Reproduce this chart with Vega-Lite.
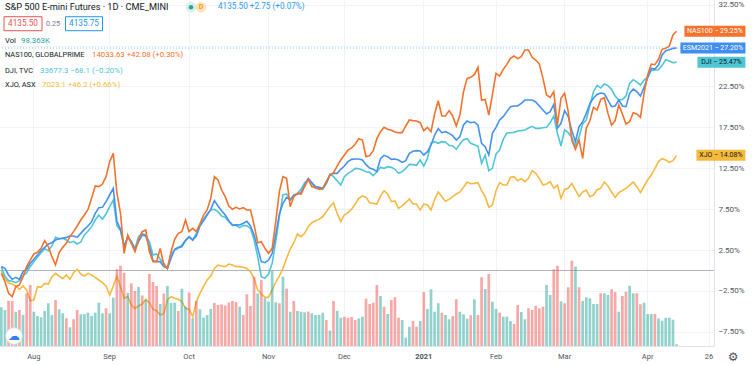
{
"$schema": "https://vega.github.io/schema/vega-lite/v6.json",
"width": 714, "height": 346,
"autosize": {"type": "none"},
"padding": {"left": 0, "top": 0, "right": 38, "bottom": 19},
"background": "#ffffff",
"config": {"view": {"stroke": null}, "font": "Roboto"},
"data": {"values": [
{"date":"2020-07-21","vol":2245,"dir":"up","nas":-0.35,"es":0.47,"dji":0.47,"xjo":-0.02},
{"date":"2020-07-22","vol":2088,"dir":"up","nas":-1.37,"es":0.26,"dji":-0.75,"xjo":-1.08},
{"date":"2020-07-23","vol":2627,"dir":"down","nas":-2.79,"es":-0.55,"dji":-1.24,"xjo":-1.49},
{"date":"2020-07-24","vol":2610,"dir":"down","nas":-3.2,"es":-1.08,"dji":-1.32,"xjo":-1.65},
{"date":"2020-07-27","vol":1989,"dir":"up","nas":-1.98,"es":-0.84,"dji":-1.49,"xjo":-1.89},
{"date":"2020-07-28","vol":2088,"dir":"down","nas":-1.77,"es":-1.08,"dji":-1.24,"xjo":-2.3},
{"date":"2020-07-29","vol":1798,"dir":"up","nas":-0.75,"es":-0.14,"dji":-0.67,"xjo":-1.89},
{"date":"2020-07-30","vol":3057,"dir":"down","nas":0.47,"es":0.14,"dji":-0.26,"xjo":-2.38},
{"date":"2020-07-31","vol":3538,"dir":"down","nas":1.28,"es":0.88,"dji":0.47,"xjo":-3.69},
{"date":"2020-08-03","vol":1989,"dir":"up","nas":2.02,"es":1.37,"dji":1.08,"xjo":-3.6},
{"date":"2020-08-04","vol":1740,"dir":"up","nas":2.22,"es":1.89,"dji":1.61,"xjo":-1.98},
{"date":"2020-08-05","vol":1665,"dir":"up","nas":2.71,"es":2.42,"dji":2.18,"xjo":-2.06},
{"date":"2020-08-06","vol":2030,"dir":"up","nas":3.65,"es":2.83,"dji":2.67,"xjo":-1.57},
{"date":"2020-08-07","vol":2477,"dir":"up","nas":2.91,"es":3.24,"dji":2.42,"xjo":-1.65},
{"date":"2020-08-10","vol":1798,"dir":"up","nas":1.69,"es":3.4,"dji":3.0,"xjo":-0.75},
{"date":"2020-08-11","vol":2668,"dir":"down","nas":0.67,"es":3.73,"dji":4.05,"xjo":-0.35},
{"date":"2020-08-12","vol":2129,"dir":"up","nas":2.18,"es":3.89,"dji":3.89,"xjo":-0.67},
{"date":"2020-08-13","vol":1897,"dir":"up","nas":2.83,"es":3.93,"dji":3.97,"xjo":-1.0},
{"date":"2020-08-14","vol":1607,"dir":"down","nas":3.32,"es":4.05,"dji":3.73,"xjo":-0.55},
{"date":"2020-08-17","vol":1085,"dir":"up","nas":4.14,"es":4.22,"dji":3.4,"xjo":-1.08},
{"date":"2020-08-18","vol":1549,"dir":"down","nas":4.75,"es":4.22,"dji":3.57,"xjo":-0.26},
{"date":"2020-08-19","vol":2088,"dir":"down","nas":5.44,"es":4.05,"dji":3.24,"xjo":0.14},
{"date":"2020-08-20","vol":1839,"dir":"up","nas":6.17,"es":4.54,"dji":3.48,"xjo":-0.43},
{"date":"2020-08-21","vol":1850,"dir":"up","nas":6.78,"es":5.03,"dji":4.34,"xjo":-0.67},
{"date":"2020-08-24","vol":1931,"dir":"up","nas":7.48,"es":5.44,"dji":4.83,"xjo":-0.35},
{"date":"2020-08-25","vol":1740,"dir":"up","nas":8.82,"es":5.97,"dji":5.36,"xjo":-0.55},
{"date":"2020-08-26","vol":1931,"dir":"up","nas":10.33,"es":6.99,"dji":6.17,"xjo":-0.84},
{"date":"2020-08-27","vol":2511,"dir":"up","nas":10.25,"es":7.68,"dji":6.78,"xjo":-1.16},
{"date":"2020-08-28","vol":1897,"dir":"up","nas":10.57,"es":7.72,"dji":6.26,"xjo":-1.49},
{"date":"2020-08-31","vol":2187,"dir":"down","nas":11.47,"es":8.41,"dji":6.91,"xjo":-1.89},
{"date":"2020-09-01","vol":1897,"dir":"up","nas":13.3,"es":9.23,"dji":7.8,"xjo":-3.0},
{"date":"2020-09-02","vol":2801,"dir":"up","nas":14.32,"es":10.04,"dji":8.62,"xjo":-1.89},
{"date":"2020-09-03","vol":4449,"dir":"down","nas":9.5,"es":6.0,"dji":5.5,"xjo":-0.7},
{"date":"2020-09-04","vol":4657,"dir":"down","nas":6.99,"es":5.03,"dji":4.87,"xjo":-1.98},
{"date":"2020-09-07","vol":4251,"dir":"down","nas":2.1,"es":2.91,"dji":3.0,"xjo":-3.4},
{"date":"2020-09-08","vol":3091,"dir":"up","nas":4.34,"es":4.14,"dji":4.05,"xjo":-3.2},
{"date":"2020-09-09","vol":3637,"dir":"down","nas":3.32,"es":3.52,"dji":3.52,"xjo":-4.22},
{"date":"2020-09-10","vol":3190,"dir":"down","nas":2.3,"es":2.5,"dji":2.71,"xjo":-4.63},
{"date":"2020-09-11","vol":3422,"dir":"up","nas":3.73,"es":3.52,"dji":4.14,"xjo":-4.34},
{"date":"2020-09-14","vol":2929,"dir":"down","nas":4.75,"es":4.34,"dji":4.54,"xjo":-4.1},
{"date":"2020-09-15","vol":2668,"dir":"up","nas":4.95,"es":4.22,"dji":4.34,"xjo":-3.52},
{"date":"2020-09-16","vol":4176,"dir":"down","nas":2.3,"es":2.91,"dji":3.52,"xjo":-3.93},
{"date":"2020-09-17","vol":3712,"dir":"down","nas":1.08,"es":1.2,"dji":1.89,"xjo":-4.75},
{"date":"2020-09-18","vol":3480,"dir":"down","nas":1.08,"es":1.08,"dji":2.02,"xjo":-4.91},
{"date":"2020-09-21","vol":2436,"dir":"up","nas":2.71,"es":1.08,"dji":1.37,"xjo":-5.44},
{"date":"2020-09-22","vol":3045,"dir":"down","nas":0.67,"es":0.47,"dji":0.88,"xjo":-5.24},
{"date":"2020-09-23","vol":3480,"dir":"up","nas":0.26,"es":0.26,"dji":0.26,"xjo":-3.6},
{"date":"2020-09-24","vol":2494,"dir":"up","nas":2.3,"es":1.49,"dji":2.02,"xjo":-3.2},
{"date":"2020-09-25","vol":2510,"dir":"up","nas":3.81,"es":2.59,"dji":2.5,"xjo":-3.4},
{"date":"2020-09-28","vol":2030,"dir":"down","nas":4.54,"es":2.83,"dji":2.71,"xjo":-3.52},
{"date":"2020-09-29","vol":3323,"dir":"up","nas":4.75,"es":2.91,"dji":3.12,"xjo":-3.81},
{"date":"2020-09-30","vol":2291,"dir":"up","nas":6.17,"es":3.65,"dji":3.73,"xjo":-4.63},
{"date":"2020-10-01","vol":3103,"dir":"down","nas":4.75,"es":4.14,"dji":4.05,"xjo":-4.75},
{"date":"2020-10-02","vol":1607,"dir":"up","nas":5.15,"es":3.73,"dji":3.73,"xjo":-5.64},
{"date":"2020-10-05","vol":2610,"dir":"down","nas":4.75,"es":4.22,"dji":4.54,"xjo":-3.81},
{"date":"2020-10-06","vol":2129,"dir":"up","nas":5.68,"es":5.44,"dji":5.68,"xjo":-2.79},
{"date":"2020-10-07","vol":1653,"dir":"up","nas":6.78,"es":6.09,"dji":6.26,"xjo":-1.98},
{"date":"2020-10-08","vol":1798,"dir":"up","nas":7.4,"es":6.78,"dji":6.91,"xjo":-1.16},
{"date":"2020-10-09","vol":2146,"dir":"up","nas":8.82,"es":7.48,"dji":7.4,"xjo":-0.67},
{"date":"2020-10-12","vol":2494,"dir":"down","nas":11.47,"es":8.54,"dji":7.48,"xjo":0.26},
{"date":"2020-10-13","vol":2378,"dir":"down","nas":11.06,"es":7.89,"dji":7.19,"xjo":0.67},
{"date":"2020-10-14","vol":2407,"dir":"down","nas":9.84,"es":7.31,"dji":6.66,"xjo":0.55},
{"date":"2020-10-15","vol":2349,"dir":"down","nas":9.03,"es":6.78,"dji":6.5,"xjo":0.47},
{"date":"2020-10-16","vol":2523,"dir":"down","nas":7.89,"es":6.09,"dji":5.97,"xjo":0.79},
{"date":"2020-10-19","vol":2610,"dir":"down","nas":7.48,"es":5.52,"dji":5.6,"xjo":0.67},
{"date":"2020-10-20","vol":2552,"dir":"down","nas":7.72,"es":5.6,"dji":5.52,"xjo":0.47},
{"date":"2020-10-21","vol":2279,"dir":"up","nas":7.52,"es":5.56,"dji":5.24,"xjo":0.47},
{"date":"2020-10-22","vol":1798,"dir":"down","nas":7.68,"es":5.77,"dji":5.52,"xjo":0.39},
{"date":"2020-10-23","vol":2999,"dir":"down","nas":7.4,"es":6.01,"dji":5.48,"xjo":0.26},
{"date":"2020-10-26","vol":2320,"dir":"down","nas":7.4,"es":5.44,"dji":5.15,"xjo":-0.14},
{"date":"2020-10-27","vol":4019,"dir":"down","nas":5.56,"es":4.34,"dji":3.73,"xjo":-0.96},
{"date":"2020-10-28","vol":3057,"dir":"up","nas":3.4,"es":2.71,"dji":1.69,"xjo":-2.38},
{"date":"2020-10-29","vol":3828,"dir":"down","nas":3.52,"es":1.08,"dji":-0.75,"xjo":-2.87},
{"date":"2020-10-30","vol":2767,"dir":"up","nas":2.71,"es":0.96,"dji":-0.96,"xjo":-3.28},
{"date":"2020-11-02","vol":2569,"dir":"up","nas":2.1,"es":1.28,"dji":-0.43,"xjo":-3.28},
{"date":"2020-11-03","vol":4367,"dir":"up","nas":2.71,"es":2.1,"dji":0.88,"xjo":-2.38},
{"date":"2020-11-04","vol":2535,"dir":"up","nas":5.97,"es":4.34,"dji":3.52,"xjo":-1.41},
{"date":"2020-11-05","vol":2477,"dir":"down","nas":9.64,"es":6.91,"dji":6.58,"xjo":-0.67},
{"date":"2020-11-06","vol":4019,"dir":"up","nas":11.47,"es":8.21,"dji":9.27,"xjo":0.26},
{"date":"2020-11-09","vol":3323,"dir":"down","nas":11.27,"es":8.94,"dji":9.35,"xjo":1.49},
{"date":"2020-11-10","vol":1989,"dir":"up","nas":7.8,"es":8.6,"dji":8.74,"xjo":2.59},
{"date":"2020-11-11","vol":2610,"dir":"down","nas":9.03,"es":9.23,"dji":9.1,"xjo":3.4},
{"date":"2020-11-12","vol":2030,"dir":"up","nas":9.43,"es":9.35,"dji":9.43,"xjo":4.46},
{"date":"2020-11-13","vol":1989,"dir":"up","nas":9.35,"es":9.52,"dji":9.92,"xjo":4.14},
{"date":"2020-11-16","vol":1955,"dir":"up","nas":10.25,"es":10.45,"dji":10.74,"xjo":4.54},
{"date":"2020-11-17","vol":1995,"dir":"down","nas":11.14,"es":11.27,"dji":11.14,"xjo":5.36},
{"date":"2020-11-18","vol":1897,"dir":"up","nas":10.25,"es":10.74,"dji":10.66,"xjo":5.84},
{"date":"2020-11-19","vol":1798,"dir":"up","nas":10.17,"es":10.25,"dji":10.04,"xjo":6.09},
{"date":"2020-11-20","vol":1805,"dir":"up","nas":9.92,"es":10.17,"dji":10.04,"xjo":6.25},
{"date":"2020-11-23","vol":1931,"dir":"up","nas":10.04,"es":10.04,"dji":9.92,"xjo":6.58},
{"date":"2020-11-24","vol":1508,"dir":"down","nas":10.86,"es":10.66,"dji":10.66,"xjo":7.19},
{"date":"2020-11-25","vol":887,"dir":"up","nas":11.67,"es":11.67,"dji":11.76,"xjo":7.8},
{"date":"2020-11-26","vol":2610,"dir":"down","nas":11.96,"es":11.88,"dji":11.47,"xjo":8.29},
{"date":"2020-11-27","vol":2047,"dir":"up","nas":12.77,"es":11.88,"dji":10.98,"xjo":6.99},
{"date":"2020-11-30","vol":1641,"dir":"up","nas":13.51,"es":12.37,"dji":10.45,"xjo":5.97},
{"date":"2020-12-01","vol":1699,"dir":"down","nas":14.12,"es":12.77,"dji":11.47,"xjo":6.79},
{"date":"2020-12-02","vol":1641,"dir":"down","nas":14.73,"es":13.31,"dji":11.88,"xjo":7.07},
{"date":"2020-12-03","vol":1682,"dir":"down","nas":14.98,"es":13.59,"dji":12.12,"xjo":7.48},
{"date":"2020-12-04","vol":1508,"dir":"down","nas":15.46,"es":13.63,"dji":12.49,"xjo":8.13},
{"date":"2020-12-07","vol":1607,"dir":"up","nas":16.12,"es":13.63,"dji":12.45,"xjo":8.82},
{"date":"2020-12-08","vol":1699,"dir":"up","nas":15.95,"es":13.51,"dji":12.29,"xjo":9.11},
{"date":"2020-12-09","vol":2743,"dir":"down","nas":13.92,"es":12.94,"dji":12.08,"xjo":8.94},
{"date":"2020-12-10","vol":2436,"dir":"down","nas":14.04,"es":12.53,"dji":12.0,"xjo":8.29},
{"date":"2020-12-11","vol":2511,"dir":"down","nas":14.65,"es":12.37,"dji":11.59,"xjo":8.21},
{"date":"2020-12-14","vol":3538,"dir":"down","nas":16.12,"es":12.1,"dji":12.08,"xjo":8.13},
{"date":"2020-12-15","vol":2900,"dir":"up","nas":16.97,"es":13.67,"dji":12.61,"xjo":9.11},
{"date":"2020-12-16","vol":2279,"dir":"down","nas":17.5,"es":14.08,"dji":12.49,"xjo":9.76},
{"date":"2020-12-17","vol":1856,"dir":"up","nas":17.26,"es":13.92,"dji":12.69,"xjo":9.35},
{"date":"2020-12-18","vol":2668,"dir":"down","nas":17.14,"es":13.59,"dji":12.61,"xjo":8.41},
{"date":"2020-12-21","vol":2825,"dir":"down","nas":16.93,"es":13.63,"dji":12.37,"xjo":8.5},
{"date":"2020-12-22","vol":1641,"dir":"down","nas":16.85,"es":13.51,"dji":11.88,"xjo":7.6},
{"date":"2020-12-23","vol":1508,"dir":"up","nas":16.85,"es":13.22,"dji":12.08,"xjo":7.89},
{"date":"2020-12-24","vol":481,"dir":"up","nas":17.67,"es":13.43,"dji":12.49,"xjo":8.29},
{"date":"2020-12-28","vol":1119,"dir":"up","nas":18.4,"es":14.32,"dji":12.98,"xjo":8.74},
{"date":"2020-12-29","vol":1450,"dir":"down","nas":18.32,"es":14.57,"dji":12.94,"xjo":8.13},
{"date":"2020-12-30","vol":1119,"dir":"down","nas":18.28,"es":14.65,"dji":12.86,"xjo":8.13},
{"date":"2020-12-31","vol":1450,"dir":"up","nas":18.07,"es":14.61,"dji":13.51,"xjo":7.39},
{"date":"2021-01-04","vol":3132,"dir":"down","nas":17.09,"es":14.12,"dji":12.78,"xjo":8.13},
{"date":"2021-01-05","vol":2146,"dir":"up","nas":17.5,"es":14.53,"dji":13.71,"xjo":8.0},
{"date":"2021-01-06","vol":3289,"dir":"up","nas":16.97,"es":15.34,"dji":15.55,"xjo":7.39},
{"date":"2021-01-07","vol":1989,"dir":"up","nas":19.13,"es":16.56,"dji":15.75,"xjo":8.7},
{"date":"2021-01-08","vol":2477,"dir":"up","nas":20.76,"es":17.34,"dji":15.55,"xjo":9.6},
{"date":"2021-01-11","vol":1931,"dir":"down","nas":18.89,"es":16.85,"dji":15.75,"xjo":9.03},
{"date":"2021-01-12","vol":1798,"dir":"up","nas":18.89,"es":16.97,"dji":15.71,"xjo":8.46},
{"date":"2021-01-13","vol":1549,"dir":"up","nas":19.54,"es":16.77,"dji":15.3,"xjo":8.7},
{"date":"2021-01-14","vol":1740,"dir":"down","nas":18.89,"es":16.48,"dji":15.22,"xjo":9.03},
{"date":"2021-01-15","vol":2709,"dir":"down","nas":17.67,"es":15.95,"dji":14.81,"xjo":9.35},
{"date":"2021-01-18","vol":1989,"dir":"up","nas":19.01,"es":16.36,"dji":15.47,"xjo":9.6},
{"date":"2021-01-19","vol":1839,"dir":"up","nas":21.86,"es":17.79,"dji":16.0,"xjo":10.17},
{"date":"2021-01-20","vol":1583,"dir":"up","nas":23.49,"es":18.28,"dji":16.12,"xjo":10.82},
{"date":"2021-01-21","vol":1781,"dir":"down","nas":23.61,"es":18.07,"dji":15.55,"xjo":10.61},
{"date":"2021-01-22","vol":2709,"dir":"up","nas":23.94,"es":18.15,"dji":15.38,"xjo":10.65},
{"date":"2021-01-25","vol":1798,"dir":"down","nas":24.84,"es":17.79,"dji":15.18,"xjo":10.74},
{"date":"2021-01-26","vol":3985,"dir":"down","nas":20.84,"es":15.55,"dji":13.1,"xjo":9.76},
{"date":"2021-01-27","vol":3306,"dir":"up","nas":20.92,"es":15.14,"dji":14.12,"xjo":9.03},
{"date":"2021-01-28","vol":4176,"dir":"down","nas":19.01,"es":14.12,"dji":12.2,"xjo":7.72},
{"date":"2021-01-29","vol":2569,"dir":"up","nas":21.46,"es":16.77,"dji":12.49,"xjo":8.0},
{"date":"2021-02-01","vol":2146,"dir":"up","nas":24.1,"es":17.5,"dji":14.24,"xjo":9.76},
{"date":"2021-02-02","vol":1931,"dir":"down","nas":23.76,"es":18.4,"dji":14.73,"xjo":10.74},
{"date":"2021-02-03","vol":1699,"dir":"up","nas":24.59,"es":18.81,"dji":16.03,"xjo":10.45},
{"date":"2021-02-04","vol":1705,"dir":"up","nas":25.2,"es":19.42,"dji":16.81,"xjo":10.45},
{"date":"2021-02-05","vol":1450,"dir":"up","nas":25.94,"es":20.03,"dji":16.85,"xjo":11.39},
{"date":"2021-02-08","vol":1276,"dir":"down","nas":26.22,"es":20.11,"dji":16.89,"xjo":11.47},
{"date":"2021-02-09","vol":2378,"dir":"down","nas":25.9,"es":20.11,"dji":17.05,"xjo":10.98},
{"date":"2021-02-10","vol":1972,"dir":"up","nas":26.14,"es":20.44,"dji":17.1,"xjo":11.23},
{"date":"2021-02-11","vol":1549,"dir":"up","nas":26.96,"es":20.84,"dji":17.18,"xjo":10.86},
{"date":"2021-02-12","vol":2187,"dir":"down","nas":26.96,"es":20.84,"dji":17.42,"xjo":11.27},
{"date":"2021-02-16","vol":2088,"dir":"down","nas":26.06,"es":20.84,"dji":17.62,"xjo":12.2},
{"date":"2021-02-17","vol":2337,"dir":"down","nas":25.73,"es":20.6,"dji":17.38,"xjo":11.88},
{"date":"2021-02-18","vol":2187,"dir":"down","nas":25.24,"es":20.11,"dji":17.38,"xjo":11.27},
{"date":"2021-02-19","vol":2279,"dir":"down","nas":23.49,"es":19.62,"dji":17.46,"xjo":10.45},
{"date":"2021-02-22","vol":3538,"dir":"up","nas":21.46,"es":19.13,"dji":17.5,"xjo":10.57},
{"date":"2021-02-23","vol":2958,"dir":"up","nas":21.17,"es":19.42,"dji":18.07,"xjo":10.86},
{"date":"2021-02-24","vol":4449,"dir":"down","nas":21.86,"es":20.3,"dji":18.89,"xjo":10.05},
{"date":"2021-02-25","vol":4657,"dir":"down","nas":17.79,"es":17.4,"dji":16.77,"xjo":10.45},
{"date":"2021-02-26","vol":2593,"dir":"up","nas":21.05,"es":18.0,"dji":15.22,"xjo":8.82},
{"date":"2021-03-01","vol":2477,"dir":"down","nas":21.66,"es":19.54,"dji":17.18,"xjo":9.92},
{"date":"2021-03-02","vol":3405,"dir":"down","nas":19.42,"es":18.81,"dji":16.85,"xjo":10.05},
{"date":"2021-03-03","vol":4947,"dir":"down","nas":15.95,"es":17.1,"dji":16.28,"xjo":10.65},
{"date":"2021-03-04","vol":4599,"dir":"up","nas":14.81,"es":15.75,"dji":15.14,"xjo":9.84},
{"date":"2021-03-05","vol":3405,"dir":"down","nas":15.95,"es":17.58,"dji":16.36,"xjo":9.03},
{"date":"2021-03-08","vol":2610,"dir":"up","nas":13.71,"es":18.19,"dji":17.91,"xjo":9.6},
{"date":"2021-03-09","vol":2825,"dir":"up","nas":17.38,"es":19.21,"dji":18.4,"xjo":9.84},
{"date":"2021-03-10","vol":2767,"dir":"up","nas":18.3,"es":20.4,"dji":20.2,"xjo":9.03},
{"date":"2021-03-11","vol":2436,"dir":"up","nas":19.95,"es":21.09,"dji":21.86,"xjo":9.23},
{"date":"2021-03-12","vol":2441,"dir":"up","nas":19.62,"es":21.52,"dji":22.63,"xjo":9.88},
{"date":"2021-03-15","vol":3057,"dir":"down","nas":20.92,"es":21.7,"dji":22.31,"xjo":10.05},
{"date":"2021-03-16","vol":3050,"dir":"up","nas":21.13,"es":21.61,"dji":22.8,"xjo":10.82},
{"date":"2021-03-17","vol":2958,"dir":"up","nas":19.21,"es":20.84,"dji":22.59,"xjo":10.33},
{"date":"2021-03-18","vol":3289,"dir":"down","nas":17.79,"es":20.03,"dji":22.15,"xjo":9.6},
{"date":"2021-03-19","vol":3132,"dir":"down","nas":18.32,"es":20.11,"dji":21.33,"xjo":8.94},
{"date":"2021-03-22","vol":1989,"dir":"up","nas":20.23,"es":20.84,"dji":20.84,"xjo":9.51},
{"date":"2021-03-23","vol":2900,"dir":"down","nas":19.13,"es":20.11,"dji":20.92,"xjo":9.76},
{"date":"2021-03-24","vol":3149,"dir":"down","nas":17.91,"es":20.03,"dji":21.33,"xjo":10.05},
{"date":"2021-03-25","vol":3497,"dir":"up","nas":18.19,"es":21.66,"dji":22.88,"xjo":10.41},
{"date":"2021-03-26","vol":3057,"dir":"up","nas":19.29,"es":22.19,"dji":23.33,"xjo":10.82},
{"date":"2021-03-29","vol":3060,"dir":"down","nas":19.13,"es":21.86,"dji":23.04,"xjo":10.25},
{"date":"2021-03-30","vol":2419,"dir":"down","nas":18.73,"es":21.33,"dji":22.68,"xjo":9.51},
{"date":"2021-03-31","vol":2511,"dir":"up","nas":21.66,"es":22.39,"dji":23.29,"xjo":10.33},
{"date":"2021-04-01","vol":1856,"dir":"up","nas":23.9,"es":23.61,"dji":23.61,"xjo":11.06},
{"date":"2021-04-02","vol":1850,"dir":"up","nas":25.24,"es":24.71,"dji":24.47,"xjo":11.67},
{"date":"2021-04-05","vol":1856,"dir":"down","nas":25.16,"es":24.63,"dji":24.51,"xjo":12.45},
{"date":"2021-04-06","vol":1607,"dir":"up","nas":25.82,"es":25.12,"dji":24.55,"xjo":13.31},
{"date":"2021-04-07","vol":1467,"dir":"up","nas":27.04,"es":26.35,"dji":25.08,"xjo":13.67},
{"date":"2021-04-08","vol":1641,"dir":"up","nas":27.16,"es":26.88,"dji":25.77,"xjo":13.51},
{"date":"2021-04-09","vol":1645,"dir":"up","nas":27.44,"es":27.0,"dji":25.61,"xjo":13.22},
{"date":"2021-04-12","vol":1525,"dir":"up","nas":28.79,"es":27.16,"dji":25.4,"xjo":13.43},
{"date":"2021-04-13","vol":98.363,"dir":"up","nas":29.25,"es":27.2,"dji":25.47,"xjo":14.08},
{"date":"2021-04-14"},{"date":"2021-04-15"},{"date":"2021-04-16"},{"date":"2021-04-19"},{"date":"2021-04-20"},
{"date":"2021-04-21"},{"date":"2021-04-22"},{"date":"2021-04-23"},{"date":"2021-04-26"},{"date":"2021-04-27"}
]},
"resolve": {"scale": {"y": "independent"}},
"layer": [
{
"layer": [
{"mark": {"type": "rule", "opacity": 0},
 "encoding": {"x": {"field": "date", "type": "ordinal", "title": null,
  "axis": {"values": ["2020-08-03","2020-09-01","2020-10-01","2020-11-02","2020-12-01","2021-01-04","2021-02-01","2021-03-01","2021-04-01","2021-04-26"],
   "labelExpr": "datum.value == '2021-01-04' ? '2021' : datum.value == '2021-04-26' ? '26' : utcFormat(toDate(datum.value), '%b')",
   "labelFontWeight": {"condition": {"test": "datum.value == '2021-01-04'", "value": "bold"}, "value": "normal"},
   "labelAngle": 0, "labelFontSize": 7.5, "labelColor": "#50535e", "labelPadding": 6, "ticks": false,
   "domainColor": "#e0e3eb", "grid": true, "gridColor": "#f0f3fa", "bandPosition": 0.5, "title": null}}}},
{"data": {"values": [{}]}, "mark": {"type": "rule", "color": "#b2b5be", "strokeWidth": 1},
 "encoding": {"y": {"datum": 0, "type": "quantitative", "scale": {"domain": [-9.23, 33.07], "nice": false, "zero": false},
  "axis": {"orient": "right", "values": [-7.5,-5,-2.5,0,2.5,5,7.5,10,12.5,15,17.5,20,22.5,25,27.5,30,32.5],
   "labelExpr": "(datum.value == 25 || datum.value == 27.5) ? '' : format(datum.value, '.2f') + '%'", "labelAlign": "left", "labelPadding": 4, "ticks": false,
   "labelFontSize": 8, "labelColor": "#50535e", "domainColor": "#e0e3eb", "grid": true, "gridColor": "#f0f3fa",
   "title": null, "labelOverlap": false, "labelBound": false, "labelFlush": false}}}},
{"transform": [{"filter": "datum.date == '2021-04-13'"}],
 "mark": {"type": "rule", "color": "#2196f3", "strokeDash": [1, 2], "opacity": 0.55},
 "encoding": {"y": {"field": "es", "type": "quantitative"}}},
{"mark": {"type": "line", "color": "#f7b942", "strokeWidth": 1.6},
 "encoding": {"x": {"field": "date", "type": "ordinal", "title": null}, "y": {"field": "xjo", "type": "quantitative"}}},
{"mark": {"type": "line", "color": "#50c5d8", "strokeWidth": 1.6},
 "encoding": {"x": {"field": "date", "type": "ordinal", "title": null}, "y": {"field": "dji", "type": "quantitative"}}},
{"mark": {"type": "line", "color": "#4592ee", "strokeWidth": 1.6},
 "encoding": {"x": {"field": "date", "type": "ordinal", "title": null}, "y": {"field": "es", "type": "quantitative"}}},
{"mark": {"type": "line", "color": "#f4722b", "strokeWidth": 1.6},
 "encoding": {"x": {"field": "date", "type": "ordinal", "title": null}, "y": {"field": "nas", "type": "quantitative"}}}
]
},
{"mark": {"type": "bar", "opacity": 0.5},
 "encoding": {
  "x": {"field": "date", "type": "ordinal", "title": null, "scale": {"paddingInner": 0.25, "paddingOuter": 0}},
  "y": {"field": "vol", "type": "quantitative", "scale": {"domain": [0, 20070], "nice": false}, "axis": null},
  "color": {"field": "dir", "type": "nominal", "scale": {"domain": ["up", "down"], "range": ["#26a69a", "#ef5350"]}, "legend": null}}},
{
"layer": [
{"data": {"values": [{}]}, "mark": {"type": "text", "text": "S&P 500 E-mini Futures · 1D · CME_MINI", "align": "left", "baseline": "middle", "dx": -352, "fontSize": 9.2, "color": "#131722"},
 "encoding": {"y": {"datum": 32.18, "type": "quantitative", "scale": {"domain": [-9.23, 33.07], "nice": false, "zero": false}, "axis": null}}},
{"data": {"values": [{}]}, "mark": {"type": "point", "shape": "circle", "size": 113, "filled": true, "color": "#dcefeb", "opacity": 1, "xOffset": -166},
 "encoding": {"y": {"datum": 32.18, "type": "quantitative", "scale": {"domain": [-9.23, 33.07], "nice": false, "zero": false}, "axis": null}}},
{"data": {"values": [{}]}, "mark": {"type": "point", "shape": "circle", "size": 20, "filled": true, "color": "#26a69a", "opacity": 1, "xOffset": -166},
 "encoding": {"y": {"datum": 32.18, "type": "quantitative", "scale": {"domain": [-9.23, 33.07], "nice": false, "zero": false}, "axis": null}}},
{"data": {"values": [{}]}, "mark": {"type": "point", "shape": "circle", "size": 113, "filled": true, "color": "#ffe3bd", "opacity": 1, "xOffset": -156},
 "encoding": {"y": {"datum": 32.18, "type": "quantitative", "scale": {"domain": [-9.23, 33.07], "nice": false, "zero": false}, "axis": null}}},
{"data": {"values": [{}]}, "mark": {"type": "text", "text": "D", "align": "center", "baseline": "middle", "dx": -156, "fontSize": 7, "fontWeight": "bold", "color": "#ff9800"},
 "encoding": {"y": {"datum": 32.18, "type": "quantitative", "scale": {"domain": [-9.23, 33.07], "nice": false, "zero": false}, "axis": null}}},
{"data": {"values": [{}]}, "mark": {"type": "text", "text": "4135.50  +2.75 (+0.07%)", "align": "left", "baseline": "middle", "dx": -139, "fontSize": 8.2, "color": "#2f9bf0"},
 "encoding": {"y": {"datum": 32.18, "type": "quantitative", "scale": {"domain": [-9.23, 33.07], "nice": false, "zero": false}, "axis": null}}},
{"data": {"values": [{}]}, "mark": {"type": "point", "shape": "M-1,-0.368H1V0.368H-1Z", "size": 1444, "filled": false, "fill": "#ffffff", "stroke": "#ef5350", "strokeWidth": 1, "opacity": 1, "xOffset": -334},
 "encoding": {"y": {"datum": 30.17, "type": "quantitative", "scale": {"domain": [-9.23, 33.07], "nice": false, "zero": false}, "axis": null}}},
{"data": {"values": [{}]}, "mark": {"type": "text", "text": "4135.50", "align": "center", "baseline": "middle", "dx": -334, "fontSize": 8.2, "color": "#ef5350"},
 "encoding": {"y": {"datum": 30.17, "type": "quantitative", "scale": {"domain": [-9.23, 33.07], "nice": false, "zero": false}, "axis": null}}},
{"data": {"values": [{}]}, "mark": {"type": "text", "text": "0.25", "align": "center", "baseline": "middle", "dx": -304, "fontSize": 7.2, "color": "#787b86"},
 "encoding": {"y": {"datum": 30.17, "type": "quantitative", "scale": {"domain": [-9.23, 33.07], "nice": false, "zero": false}, "axis": null}}},
{"data": {"values": [{}]}, "mark": {"type": "point", "shape": "M-1,-0.378H1V0.378H-1Z", "size": 1369, "filled": false, "fill": "#ffffff", "stroke": "#2196f3", "strokeWidth": 1, "opacity": 1, "xOffset": -273},
 "encoding": {"y": {"datum": 30.17, "type": "quantitative", "scale": {"domain": [-9.23, 33.07], "nice": false, "zero": false}, "axis": null}}},
{"data": {"values": [{}]}, "mark": {"type": "text", "text": "4135.75", "align": "center", "baseline": "middle", "dx": -273, "fontSize": 8.2, "color": "#2196f3"},
 "encoding": {"y": {"datum": 30.17, "type": "quantitative", "scale": {"domain": [-9.23, 33.07], "nice": false, "zero": false}, "axis": null}}},
{"data": {"values": [{}]}, "mark": {"type": "text", "text": "Vol", "align": "left", "baseline": "middle", "dx": -352, "fontSize": 7.6, "color": "#131722"},
 "encoding": {"y": {"datum": 28.09, "type": "quantitative", "scale": {"domain": [-9.23, 33.07], "nice": false, "zero": false}, "axis": null}}},
{"data": {"values": [{}]}, "mark": {"type": "text", "text": "98.363K", "align": "left", "baseline": "middle", "dx": -336, "fontSize": 7.8, "color": "#26a69a"},
 "encoding": {"y": {"datum": 28.09, "type": "quantitative", "scale": {"domain": [-9.23, 33.07], "nice": false, "zero": false}, "axis": null}}},
{"data": {"values": [{}]}, "mark": {"type": "text", "text": "NAS100, GLOBALPRIME", "align": "left", "baseline": "middle", "dx": -352, "fontSize": 7.4, "color": "#131722"},
 "encoding": {"y": {"datum": 26.35, "type": "quantitative", "scale": {"domain": [-9.23, 33.07], "nice": false, "zero": false}, "axis": null}}},
{"data": {"values": [{}]}, "mark": {"type": "text", "text": "14033.63  +42.08 (+0.30%)", "align": "left", "baseline": "middle", "dx": -265, "fontSize": 7.8, "color": "#f4722b"},
 "encoding": {"y": {"datum": 26.35, "type": "quantitative", "scale": {"domain": [-9.23, 33.07], "nice": false, "zero": false}, "axis": null}}},
{"data": {"values": [{}]}, "mark": {"type": "text", "text": "DJI, TVC", "align": "left", "baseline": "middle", "dx": -352, "fontSize": 7.4, "color": "#131722"},
 "encoding": {"y": {"datum": 24.43, "type": "quantitative", "scale": {"domain": [-9.23, 33.07], "nice": false, "zero": false}, "axis": null}}},
{"data": {"values": [{}]}, "mark": {"type": "text", "text": "33677.3  −68.1 (−0.20%)", "align": "left", "baseline": "middle", "dx": -317, "fontSize": 7.8, "color": "#4ec6d6"},
 "encoding": {"y": {"datum": 24.43, "type": "quantitative", "scale": {"domain": [-9.23, 33.07], "nice": false, "zero": false}, "axis": null}}},
{"data": {"values": [{}]}, "mark": {"type": "text", "text": "XJO, ASX", "align": "left", "baseline": "middle", "dx": -352, "fontSize": 7.4, "color": "#131722"},
 "encoding": {"y": {"datum": 22.68, "type": "quantitative", "scale": {"domain": [-9.23, 33.07], "nice": false, "zero": false}, "axis": null}}},
{"data": {"values": [{}]}, "mark": {"type": "text", "text": "7023.1  +46.2 (+0.66%)", "align": "left", "baseline": "middle", "dx": -315, "fontSize": 7.8, "color": "#f6ba3a"},
 "encoding": {"y": {"datum": 22.68, "type": "quantitative", "scale": {"domain": [-9.23, 33.07], "nice": false, "zero": false}, "axis": null}}},
{"transform": [{"filter": "datum.date == '2021-04-13'"}],
 "layer": [
  {"mark": {"type": "point", "shape": "M-1,-0.18H1V0.18H-1Z", "size": 3721, "filled": true, "color": "#f4722b", "opacity": 1, "xOffset": 38.4},
   "encoding": {"x": {"field": "date", "type": "ordinal", "title": null}, "y": {"field": "nas", "type": "quantitative", "scale": {"domain": [-9.23, 33.07], "nice": false, "zero": false}, "axis": null}}},
  {"mark": {"type": "text", "text": "NAS100 − 29.25%", "align": "center", "baseline": "middle", "dx": 38.4, "fontSize": 7, "color": "#ffffff"},
   "encoding": {"x": {"field": "date", "type": "ordinal", "title": null}, "y": {"field": "nas", "type": "quantitative", "scale": {"domain": [-9.23, 33.07], "nice": false, "zero": false}, "axis": null}}},
  {"mark": {"type": "point", "shape": "M-1,-0.169H1V0.169H-1Z", "size": 4225, "filled": true, "color": "#3f8ef0", "opacity": 1, "xOffset": 36.4},
   "encoding": {"x": {"field": "date", "type": "ordinal", "title": null}, "y": {"field": "es", "type": "quantitative", "scale": {"domain": [-9.23, 33.07], "nice": false, "zero": false}, "axis": null}}},
  {"mark": {"type": "text", "text": "ESM2021 − 27.20%", "align": "center", "baseline": "middle", "dx": 36.4, "fontSize": 7, "color": "#ffffff"},
   "encoding": {"x": {"field": "date", "type": "ordinal", "title": null}, "y": {"field": "es", "type": "quantitative", "scale": {"domain": [-9.23, 33.07], "nice": false, "zero": false}, "axis": null}}},
  {"mark": {"type": "point", "shape": "M-1,-0.229H1V0.229H-1Z", "size": 2304, "filled": true, "color": "#4ec6d6", "opacity": 1, "xOffset": 44.9},
   "encoding": {"x": {"field": "date", "type": "ordinal", "title": null}, "y": {"field": "dji", "type": "quantitative", "scale": {"domain": [-9.23, 33.07], "nice": false, "zero": false}, "axis": null}}},
  {"mark": {"type": "text", "text": "DJI − 25.47%", "align": "center", "baseline": "middle", "dx": 44.9, "fontSize": 7, "color": "#131722"},
   "encoding": {"x": {"field": "date", "type": "ordinal", "title": null}, "y": {"field": "dji", "type": "quantitative", "scale": {"domain": [-9.23, 33.07], "nice": false, "zero": false}, "axis": null}}},
  {"mark": {"type": "point", "shape": "M-1,-0.224H1V0.224H-1Z", "size": 2401, "filled": true, "color": "#f6ba3a", "opacity": 1, "xOffset": 44.4},
   "encoding": {"x": {"field": "date", "type": "ordinal", "title": null}, "y": {"field": "xjo", "type": "quantitative", "scale": {"domain": [-9.23, 33.07], "nice": false, "zero": false}, "axis": null}}},
  {"mark": {"type": "text", "text": "XJO − 14.08%", "align": "center", "baseline": "middle", "dx": 44.4, "fontSize": 7, "color": "#131722"},
   "encoding": {"x": {"field": "date", "type": "ordinal", "title": null}, "y": {"field": "xjo", "type": "quantitative", "scale": {"domain": [-9.23, 33.07], "nice": false, "zero": false}, "axis": null}}}
 ]},
{"data": {"values": [{}]}, "mark": {"type": "point", "shape": "circle", "size": 284, "filled": true, "fill": "#ffffff", "stroke": "#d1d4dc", "strokeWidth": 0.8, "opacity": 1, "xOffset": -343},
 "encoding": {"y": {"datum": -8.01, "type": "quantitative", "scale": {"domain": [-9.23, 33.07], "nice": false, "zero": false}, "axis": null}}},
{"data": {"values": [{}]}, "mark": {"type": "text", "text": "☁", "font": "DejaVu Sans", "align": "center", "baseline": "middle", "dx": -343, "fontSize": 12, "color": "#2f80ed"},
 "encoding": {"y": {"datum": -8.01, "type": "quantitative", "scale": {"domain": [-9.23, 33.07], "nice": false, "zero": false}, "axis": null}}},
{"data": {"values": [{}]}, "mark": {"type": "text", "text": "⚙", "font": "DejaVu Sans", "align": "center", "baseline": "middle", "dx": 376, "fontSize": 12, "color": "#50535e"},
 "encoding": {"y": {"datum": -10.57, "type": "quantitative", "scale": {"domain": [-9.23, 33.07], "nice": false, "zero": false}, "axis": null}}}
]
}
]
}
